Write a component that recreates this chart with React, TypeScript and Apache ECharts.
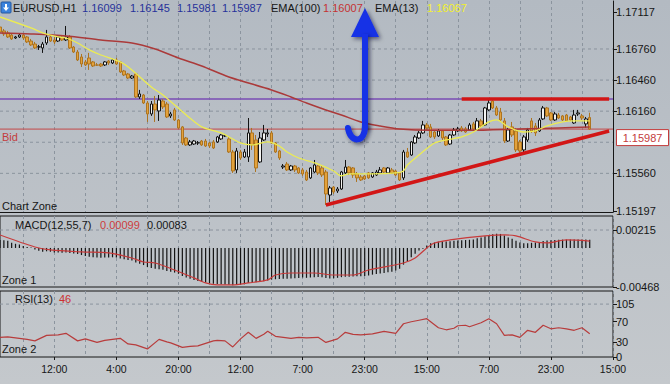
import React, { useEffect, useRef } from "react";
import * as echarts from "echarts";

// ---------- data ----------
const timeLabels = ["12:00", "4:00", "20:00", "12:00", "7:00", "23:00", "15:00", "7:00", "23:00", "15:00"];
const slotCount = 159;
const firstLabelSlot = 14;
const labelStep = 16;
const gridStep = 8;

// [open, close, low, high]
const candles: number[][] = [
  [1.16972, 1.16924, 1.16915, 1.17001], [1.16934, 1.16905, 1.16886, 1.16953], [1.16915, 1.16876, 1.16866, 1.16934],
  [1.16895, 1.16857, 1.16847, 1.16905], [1.16866, 1.16876, 1.16857, 1.16886], [1.16876, 1.16895, 1.16866, 1.16905],
  [1.16895, 1.16866, 1.16847, 1.16905], [1.16876, 1.16828, 1.16818, 1.16886], [1.16837, 1.16799, 1.16789, 1.16857],
  [1.16808, 1.1677, 1.1676, 1.16828], [1.16779, 1.16781, 1.16751, 1.16799], [1.1677, 1.16808, 1.16722, 1.16828],
  [1.16818, 1.16876, 1.16799, 1.16944], [1.16876, 1.16837, 1.16828, 1.16895], [1.16847, 1.16828, 1.16808, 1.16876],
  [1.16837, 1.16876, 1.16828, 1.16895], [1.16876, 1.16847, 1.16837, 1.16895], [1.16847, 1.16876, 1.16837, 1.16982],
  [1.16876, 1.1677, 1.1676, 1.16895], [1.16779, 1.16731, 1.16722, 1.16789], [1.16731, 1.16654, 1.16644, 1.16751],
  [1.16683, 1.16615, 1.16586, 1.16712], [1.16635, 1.16606, 1.16596, 1.16654], [1.16673, 1.16615, 1.16558, 1.16722],
  [1.16635, 1.16596, 1.16586, 1.16644], [1.16606, 1.16604, 1.16596, 1.16625], [1.16615, 1.16596, 1.16586, 1.16625],
  [1.16606, 1.16635, 1.16596, 1.16644], [1.16644, 1.16625, 1.16606, 1.16654], [1.16625, 1.16654, 1.16615, 1.16664],
  [1.16654, 1.16615, 1.16606, 1.16673], [1.16635, 1.16538, 1.16529, 1.16644], [1.16548, 1.16509, 1.16499, 1.16558],
  [1.16519, 1.1648, 1.16471, 1.16529], [1.1648, 1.16499, 1.16471, 1.16509], [1.16519, 1.16297, 1.16287, 1.16529],
  [1.16297, 1.16326, 1.16278, 1.16365], [1.16316, 1.16239, 1.16229, 1.16326], [1.16239, 1.16133, 1.16056, 1.16258],
  [1.16133, 1.16229, 1.16114, 1.16258], [1.16229, 1.16172, 1.16056, 1.16307], [1.16162, 1.16268, 1.16066, 1.16316],
  [1.16258, 1.16201, 1.16181, 1.16278], [1.16229, 1.16104, 1.16094, 1.16249], [1.16114, 1.16133, 1.16094, 1.16152],
  [1.16172, 1.16075, 1.16066, 1.16191], [1.16075, 1.15998, 1.15988, 1.16085], [1.16008, 1.15853, 1.15834, 1.16017],
  [1.15901, 1.15834, 1.15824, 1.15911], [1.15834, 1.15863, 1.15824, 1.15882], [1.15843, 1.15872, 1.15834, 1.15882],
  [1.15853, 1.15855, 1.15834, 1.15872], [1.15872, 1.15834, 1.15824, 1.15882], [1.15872, 1.15824, 1.15815, 1.15892],
  [1.15853, 1.15824, 1.15805, 1.15863], [1.15863, 1.15805, 1.15795, 1.15882], [1.15863, 1.15911, 1.15853, 1.15921],
  [1.15892, 1.1593, 1.15882, 1.1594], [1.15921, 1.15923, 1.15911, 1.1594], [1.15892, 1.15766, 1.15757, 1.15911],
  [1.15766, 1.15583, 1.15564, 1.15786], [1.15593, 1.15776, 1.15564, 1.15805], [1.15766, 1.15708, 1.15689, 1.15786],
  [1.15718, 1.15766, 1.15708, 1.15795], [1.15718, 1.1595, 1.1567, 1.16094], [1.1595, 1.15834, 1.15786, 1.15998],
  [1.15882, 1.15612, 1.15573, 1.1593], [1.1567, 1.15901, 1.1566, 1.15959], [1.15882, 1.1595, 1.15872, 1.16027],
  [1.1594, 1.1595, 1.15911, 1.15988], [1.1595, 1.15853, 1.15843, 1.15969], [1.15853, 1.15766, 1.15757, 1.15863],
  [1.15776, 1.15708, 1.15689, 1.15786], [1.15621, 1.15631, 1.15602, 1.1565], [1.1565, 1.15593, 1.15583, 1.1567],
  [1.15593, 1.15631, 1.15583, 1.15641], [1.15631, 1.15593, 1.15573, 1.15641], [1.15612, 1.15564, 1.15554, 1.15621],
  [1.15593, 1.15554, 1.15535, 1.15612], [1.15573, 1.15496, 1.15486, 1.15593], [1.15516, 1.15612, 1.15506, 1.15621],
  [1.15573, 1.15641, 1.15564, 1.15689], [1.15631, 1.15564, 1.15544, 1.15641], [1.15612, 1.15544, 1.15525, 1.15631],
  [1.15573, 1.15361, 1.15255, 1.15593], [1.15351, 1.15419, 1.15284, 1.15438], [1.15428, 1.1538, 1.15361, 1.15438],
  [1.1539, 1.15409, 1.15371, 1.15428], [1.15409, 1.15573, 1.154, 1.15583], [1.15564, 1.15621, 1.15554, 1.15689],
  [1.15621, 1.15564, 1.15544, 1.15631], [1.15612, 1.15544, 1.15516, 1.15621], [1.15554, 1.15516, 1.15477, 1.15573],
  [1.15525, 1.15496, 1.15486, 1.15544], [1.15535, 1.15506, 1.15496, 1.15544], [1.15564, 1.15516, 1.15506, 1.15573],
  [1.15525, 1.15564, 1.15516, 1.15573], [1.15544, 1.15573, 1.15535, 1.15593], [1.15564, 1.15593, 1.15554, 1.15621],
  [1.15612, 1.15573, 1.15564, 1.15621], [1.15564, 1.15612, 1.15554, 1.15621], [1.15593, 1.15564, 1.15554, 1.15612],
  [1.15583, 1.15544, 1.15535, 1.15593], [1.15564, 1.15496, 1.15486, 1.15573], [1.15516, 1.15766, 1.15496, 1.15786],
  [1.15766, 1.15718, 1.15708, 1.15805], [1.15737, 1.15863, 1.15728, 1.15872], [1.15853, 1.15911, 1.15843, 1.1593],
  [1.15901, 1.1595, 1.15892, 1.15969], [1.1595, 1.16027, 1.1594, 1.16066], [1.16027, 1.15998, 1.15979, 1.16046],
  [1.16008, 1.15911, 1.15901, 1.16037], [1.15959, 1.15911, 1.15892, 1.15969], [1.15921, 1.15969, 1.15911, 1.15988],
  [1.15969, 1.15901, 1.15882, 1.15979], [1.15911, 1.15834, 1.15824, 1.15921], [1.15843, 1.1593, 1.15834, 1.1594],
  [1.1593, 1.15979, 1.15921, 1.15998], [1.15969, 1.15988, 1.15959, 1.16008], [1.15998, 1.15969, 1.15959, 1.16017],
  [1.15988, 1.15959, 1.1595, 1.16008], [1.15979, 1.16027, 1.15969, 1.16046], [1.16037, 1.15988, 1.15979, 1.16056],
  [1.15979, 1.16066, 1.15969, 1.16094], [1.16066, 1.16017, 1.16008, 1.16085], [1.16027, 1.16191, 1.16017, 1.16201],
  [1.16172, 1.16239, 1.16162, 1.16268], [1.16258, 1.16191, 1.16181, 1.16268], [1.16191, 1.16123, 1.16114, 1.1621],
  [1.16152, 1.16075, 1.16056, 1.16191], [1.16066, 1.15872, 1.15853, 1.16094], [1.15872, 1.15979, 1.15863, 1.15998],
  [1.16008, 1.1593, 1.15911, 1.16056], [1.15969, 1.15786, 1.15766, 1.15998], [1.15863, 1.15776, 1.15757, 1.15882],
  [1.15786, 1.15911, 1.15766, 1.1593], [1.15882, 1.15979, 1.15863, 1.15998], [1.16066, 1.15969, 1.1595, 1.16094],
  [1.16017, 1.1595, 1.15921, 1.16046], [1.15969, 1.16075, 1.15959, 1.16094], [1.16085, 1.16191, 1.16075, 1.1621],
  [1.16191, 1.16114, 1.16104, 1.16201], [1.16143, 1.16075, 1.16066, 1.16152], [1.16075, 1.16133, 1.16066, 1.16152],
  [1.16123, 1.16094, 1.16085, 1.16143], [1.16114, 1.16075, 1.16066, 1.16123], [1.16123, 1.16066, 1.16056, 1.16133],
  [1.16104, 1.16075, 1.16066, 1.16114], [1.16046, 1.16123, 1.16037, 1.16172], [1.16133, 1.16143, 1.16114, 1.16172],
  [1.16114, 1.16094, 1.16075, 1.16133], [1.16037, 1.16085, 1.15998, 1.16104], [1.16099, 1.15987, 1.15981, 1.16145],
];

// [bar index, value]
const ema100: number[][] = [
  [0, 1.16915], [8, 1.16905], [17, 1.16886], [26, 1.16847], [34, 1.16818], [40, 1.1676], [46, 1.16673],
  [52, 1.16596], [59, 1.1649], [70, 1.16365], [75, 1.16297], [79, 1.16239], [84, 1.16172], [88, 1.16123],
  [93, 1.16056], [98, 1.16017], [103, 1.15988], [111, 1.15975], [121, 1.15975], [134, 1.15988], [144, 1.15998],
  [152, 1.16007],
];
const ema13: number[][] = [
  [0, 1.17069], [8, 1.16963], [11, 1.16915], [15, 1.16876], [17, 1.16866], [20, 1.16818], [23, 1.16751],
  [26, 1.16702], [31, 1.16635], [34, 1.16558], [39, 1.16393], [42, 1.16316], [48, 1.16123], [52, 1.16008],
  [57, 1.1595], [62, 1.15853], [65, 1.15834], [69, 1.15863], [72, 1.15824], [74, 1.15766], [77, 1.15708],
  [82, 1.1565], [86, 1.15583], [88, 1.15535], [90, 1.15554], [96, 1.15554], [102, 1.15564], [104, 1.15583],
  [105, 1.15641], [108, 1.15737], [112, 1.15853], [115, 1.15882], [119, 1.15911], [122, 1.15959],
  [126, 1.16056], [128, 1.16075], [131, 1.16008], [135, 1.15959], [138, 1.15969], [141, 1.16017],
  [145, 1.16056], [148, 1.16066], [152, 1.16067],
];

const macdHist: number[] = [
  0.00096, 0.00092, 0.00085, 0.00062, 0.0005, 0.0004, 0.00022, 0.00012, 0.00004, -0.0002,
  -0.00035, -0.00045, -0.0004, -0.00045, -0.00055, -0.00055, -0.00058, -0.00055, -0.0006, -0.00065,
  -0.00072, -0.00085, -0.00095, -0.00105, -0.0011, -0.00115, -0.00118, -0.00115, -0.00115, -0.00112,
  -0.00115, -0.00125, -0.00135, -0.00145, -0.0015, -0.00175, -0.0019, -0.00205, -0.0023, -0.0024,
  -0.0025, -0.00255, -0.00262, -0.00275, -0.00285, -0.00295, -0.0031, -0.00335, -0.00355, -0.0037,
  -0.00385, -0.00395, -0.00405, -0.00415, -0.0042, -0.0043, -0.00432, -0.00435, -0.00438, -0.0044,
  -0.00448, -0.00445, -0.0044, -0.00435, -0.0042, -0.00415, -0.0041, -0.00405, -0.004, -0.0039,
  -0.0038, -0.00375, -0.00372, -0.0037, -0.00368, -0.00366, -0.00362, -0.0036, -0.00355, -0.00358,
  -0.00355, -0.0035, -0.00348, -0.0035, -0.0036, -0.00365, -0.00362, -0.00358, -0.0035, -0.00345,
  -0.00345, -0.00342, -0.0034, -0.0034, -0.00335, -0.0033, -0.0032, -0.00312, -0.00305, -0.003,
  -0.00292, -0.00285, -0.0027, -0.0025, -0.002, -0.0016, -0.0011, -0.0007, -0.0003, -0.0001,
  0.0003, 0.00055, 0.00065, 0.00075, 0.0008, 0.00078, 0.0008, 0.00085, 0.00088, 0.00092,
  0.00095, 0.00098, 0.00102, 0.00115, 0.00125, 0.0014, 0.00155, 0.00165, 0.0017, 0.00168,
  0.0015, 0.00125, 0.0011, 0.00085, 0.00065, 0.00055, 0.00055, 0.00062, 0.00065, 0.00072,
  0.00082, 0.00088, 0.00092, 0.00095, 0.00098, 0.001, 0.001, 0.001, 0.00102, 0.00102,
  0.001, 0.001, 0.00099,
];
const macdSignal: number[][] = [
  [0, 0.00156], [9, 0.00012], [13, -0.00024], [21, -0.00048], [28, -0.0006], [34, -0.0012], [37, -0.00168],
  [40, -0.0018], [45, -0.00264], [50, -0.00359], [53, -0.00419], [56, -0.00443], [60, -0.00443],
  [64, -0.00419], [69, -0.00383], [71, -0.00324], [75, -0.003], [81, -0.003], [86, -0.00324], [91, -0.00324],
  [95, -0.00264], [104, -0.0018], [107, -0.0012], [110, 0.0], [112, 0.0006], [116, 0.00096], [125, 0.00144],
  [130, 0.00156], [133, 0.00144], [138, 0.00072], [141, 0.0006], [146, 0.00096], [152, 0.00083],
];
const rsi13: number[][] = [
  [0, 39], [2, 40], [5, 37], [7, 35], [9, 32], [12, 43], [15, 44], [17, 47], [20, 32], [22, 36], [25, 29],
  [27, 33], [30, 36], [31, 37], [33, 26], [35, 24], [38, 16], [41, 35], [43, 30], [44, 28], [47, 19], [49, 21],
  [51, 22], [53, 27], [55, 32], [56, 33], [58, 32], [60, 20], [62, 36], [64, 49], [66, 37], [68, 45], [69, 51],
  [71, 41], [73, 39], [75, 37], [77, 39], [79, 38], [82, 39], [84, 29], [87, 36], [89, 49], [91, 45], [93, 44],
  [96, 46], [99, 51], [102, 47], [104, 66], [106, 70], [108, 73], [110, 76], [112, 64], [113, 58], [115, 54],
  [117, 57], [118, 62], [120, 63], [121, 60], [124, 68], [126, 76], [128, 66], [130, 43], [132, 44], [134, 39],
  [136, 53], [138, 49], [140, 63], [142, 56], [144, 58], [146, 56], [148, 53], [150, 58], [152, 46],
];

const priceTicks = [1.17117, 1.1676, 1.1646, 1.1616, 1.1556, 1.15197];
const priceGridLines = [1.1676, 1.1646, 1.1616, 1.1586, 1.1556];
const macdTicks = [0.00215, -0.00468];
const macdGridLines = [0.00215];
const rsiTicks = [0, 30, 70, 105];
const rsiGridLines = [105];

const bidPrice = 1.15987;
const levelPrice = 1.16278;
const resistanceLine: number[][] = [[119, 1.16278], [157, 1.16278]];
const supportLine: number[][] = [[84, 1.15255], [157, 1.15969]];

const header = { symbol: "EURUSD,H1", open: "1.16099", high: "1.16145", low: "1.15981", close: "1.15987" };
const emaHeader = { slow: "EMA(100)", slowVal: "1.16007", fast: "EMA(13)", fastVal: "1.16067" };
const macdHeader = { name: "MACD(12,55,7)", main: "0.00099", signal: "0.00083" };
const rsiHeader = { name: "RSI(13)", value: "46" };

// ---------- styles ----------
const FONT = '"Liberation Sans", Arial, sans-serif';
const DARK = "#161616";
const GRIDC = "#8b949e";

function hLine(value: number, axis: number, lineStyle: any, z: number): any {
  return {
    type: "line",
    xAxisIndex: axis,
    yAxisIndex: axis,
    data: [[0, value], [slotCount - 1, value]],
    symbol: "none",
    silent: true,
    z,
    lineStyle,
  };
}

function buildOption(): any {
  const cats = Array.from({ length: slotCount }, (_, i) => String(i));
  const splitInterval = (i: number) => i % gridStep === 6;
  const labelInterval = (i: number) => i >= firstLabelSlot && (i - firstLabelSlot) % labelStep === 0;

  const xAxis = [0, 1, 2].map((g) => ({
    type: "category",
    gridIndex: g,
    data: cats,
    boundaryGap: false,
    axisLine: { show: g === 0, lineStyle: { color: DARK, width: 1 } },
    axisTick: { show: g === 2, interval: labelInterval, length: 3, lineStyle: { color: DARK } },
    axisLabel: {
      show: g === 2,
      interval: labelInterval,
      formatter: (v: string) => timeLabels[(Number(v) - firstLabelSlot) / labelStep] ?? "",
      color: DARK,
      fontSize: 10.5,
      fontFamily: FONT,
      margin: 6,
    },
    splitLine: { show: true, interval: splitInterval, lineStyle: { color: GRIDC, type: [3, 3], width: 1 } },
  }));

  const yCommon = (ticks: number[], fmt: (v: number) => string, axisLine: boolean) => ({
    position: "right",
    splitLine: { show: false },
    axisLine: { show: axisLine, lineStyle: { color: DARK } },
    axisTick: { show: true, customValues: ticks, length: 4, lineStyle: { color: DARK } },
    axisLabel: { customValues: ticks, formatter: fmt, color: DARK, fontSize: 11, fontFamily: FONT, margin: 3 },
  });

  const yAxis = [
    { type: "value", gridIndex: 0, min: 1.15187, max: 1.17223, ...yCommon(priceTicks, (v) => v.toFixed(5), true) },
    { type: "value", gridIndex: 1, min: -0.00468, max: 0.00383, ...yCommon(macdTicks, (v) => v.toFixed(5), false) },
    { type: "value", gridIndex: 2, min: 0, max: 131, ...yCommon(rsiTicks, (v) => String(Math.round(v)), false) },
  ];

  const dashed = { color: GRIDC, type: [3, 3], width: 1 };
  const redTrend = { color: "#d21616", width: 3.5 };

  return {
    animation: false,
    backgroundColor: {
      type: "linear", x: 0, y: 0, x2: 0, y2: 1,
      colorStops: [{ offset: 0, color: "#b3bac2" }, { offset: 1, color: "#c4c8cc" }],
    },
    grid: [
      { left: -1, right: 57, top: 1, height: 211 },
      { left: -1, right: 57, top: 216, height: 71, show: true, borderColor: DARK, borderWidth: 1, backgroundColor: "transparent" },
      { left: -1, right: 57, top: 291, height: 66, show: true, borderColor: DARK, borderWidth: 1, backgroundColor: "transparent" },
    ],
    xAxis,
    yAxis,
    series: [
      ...priceGridLines.map((v) => hLine(v, 0, dashed, 0)),
      ...macdGridLines.map((v) => hLine(v, 1, dashed, 0)),
      ...rsiGridLines.map((v) => hLine(v, 2, dashed, 0)),
      hLine(levelPrice, 0, { color: "#7a4db4", width: 1.5 }, 1),
      hLine(bidPrice, 0, { color: "#c44848", width: 1 }, 1),
      {
        type: "candlestick", xAxisIndex: 0, yAxisIndex: 0, data: candles, barWidth: 3, clip: true, z: 3,
        itemStyle: { color: "#f4f4f2", color0: "#e3a23c", borderColor: "#141414", borderColor0: "#ad7420", borderWidth: 1 },
      },
      {
        type: "line", xAxisIndex: 0, yAxisIndex: 0, data: ema100, symbol: "none", smooth: 0.3, z: 4,
        lineStyle: { color: "#ab3a3a", width: 1.5 },
      },
      {
        type: "line", xAxisIndex: 0, yAxisIndex: 0, data: ema13, symbol: "none", smooth: 0.3, z: 5,
        lineStyle: { color: "#ecec52", width: 1.3 },
      },
      { type: "line", xAxisIndex: 0, yAxisIndex: 0, data: resistanceLine, symbol: "none", z: 6, silent: true, lineStyle: redTrend },
      { type: "line", xAxisIndex: 0, yAxisIndex: 0, data: supportLine, symbol: "none", z: 6, silent: true, lineStyle: redTrend },
      {
        type: "bar", xAxisIndex: 1, yAxisIndex: 1, data: macdHist, barWidth: 1.2, z: 3,
        itemStyle: { color: "#141414" },
      },
      {
        type: "line", xAxisIndex: 1, yAxisIndex: 1, data: macdSignal, symbol: "none", smooth: 0.3, z: 4,
        lineStyle: { color: "#c83a3a", width: 1.2 },
      },
      {
        type: "line", xAxisIndex: 2, yAxisIndex: 2, data: rsi13, symbol: "none", z: 4,
        lineStyle: { color: "#b83c3c", width: 1.2 },
      },
    ],
  };
}

function txt(x: number, y: number, text: string, fill: string, align = "left"): any {
  return {
    type: "text", x, y, silent: true, z: 100,
    style: { text, fill, font: `11px ${FONT}`, verticalAlign: "middle", align },
  };
}

function buildGraphics(bidY: number): any[] {
  const blue = "#1530e6";
  const shadow = { shadowBlur: 4, shadowColor: "rgba(0,0,40,0.55)", shadowOffsetX: 2, shadowOffsetY: 2 };
  return [
    // header icon
    { type: "rect", shape: { x: 1, y: 2, width: 10, height: 11, r: 1 }, style: { fill: "#3b82dc", stroke: "#27599f", lineWidth: 1 }, z: 100, silent: true },
    { type: "polygon", shape: { points: [[3, 7.5], [9, 7.5], [6, 11]] }, style: { fill: "#ffffff" }, z: 101, silent: true },
    { type: "rect", shape: { x: 5, y: 4, width: 2, height: 4 }, style: { fill: "#ffffff" }, z: 101, silent: true },
    txt(13, 8, header.symbol, DARK),
    txt(82, 8, header.open, "#27329a"),
    txt(130, 8, header.high, "#27329a"),
    txt(177, 8, header.low, "#27329a"),
    txt(222, 8, header.close, "#27329a"),
    txt(271, 8, emaHeader.slow, DARK),
    txt(323, 8, emaHeader.slowVal, "#c43232"),
    txt(375, 8, emaHeader.fast, DARK),
    txt(427, 8, emaHeader.fastVal, "#f2f02a"),
    txt(2, 206, "Chart Zone", DARK),
    txt(15, 225, macdHeader.name, DARK),
    txt(100, 225, macdHeader.main, "#cc3c3c"),
    txt(147, 225, macdHeader.signal, DARK),
    txt(2, 280, "Zone 1", DARK),
    txt(15, 299, rsiHeader.name, DARK),
    txt(59, 299, rsiHeader.value, "#cc3030"),
    txt(2, 349, "Zone 2", DARK),
    // bid
    txt(2, bidY + 8, "Bid", "#c43c3c"),
    { type: "rect", shape: { x: 616.5, y: bidY + 0.5, width: 52, height: 16 }, style: { fill: "#ffffff", stroke: "#c43c3c", lineWidth: 1 }, z: 100, silent: true },
    txt(642.5, bidY + 9, header.close, "#c43c3c", "center"),
    // blue arrow
    { type: "polygon", shape: { points: [[365, 8], [379, 37], [351, 37]] }, style: { fill: blue, ...shadow }, z: 120, silent: true },
    { type: "rect", shape: { x: 362, y: 34, width: 6, height: 95 }, style: { fill: blue, ...shadow }, z: 120, silent: true },
    {
      type: "bezierCurve",
      shape: { x1: 365, y1: 126, cpx1: 365, cpy1: 144, cpx2: 350, cpy2: 143, x2: 348, y2: 128 },
      style: { stroke: blue, lineWidth: 6, lineCap: "round", fill: null, ...shadow }, z: 120, silent: true,
    },
  ];
}

export default function App() {
  const ref = useRef<HTMLDivElement>(null);
  useEffect(() => {
    const el = ref.current;
    if (!el) return;
    const chart = echarts.init(el, undefined, { renderer: "svg" });
    chart.setOption(buildOption());
    const pt = chart.convertToPixel({ gridIndex: 0 }, [0, bidPrice]) as number[];
    const bidY = pt && isFinite(pt[1]) ? pt[1] : 129;
    chart.setOption({ graphic: buildGraphics(bidY) });
    return () => chart.dispose();
  }, []);
  return <div ref={ref} style={{ position: "fixed", left: 0, top: 0, width: 670, height: 384 }} />;
}
